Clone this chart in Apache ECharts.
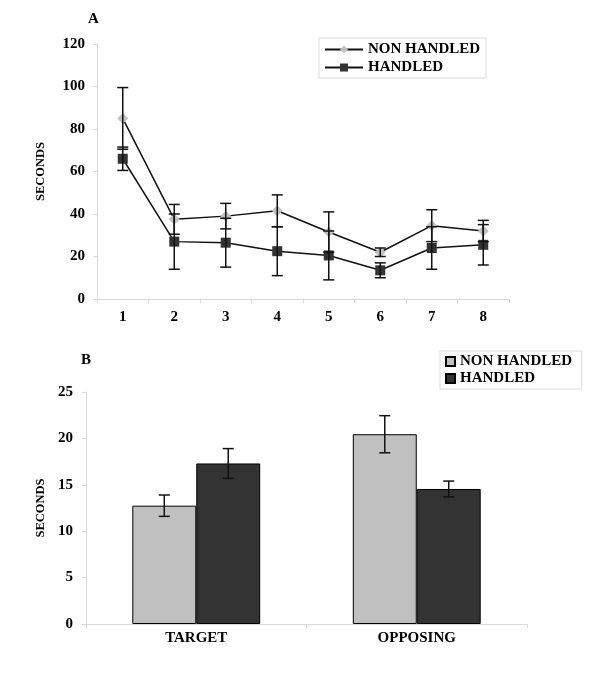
<!DOCTYPE html>
<html><head><meta charset="utf-8">
<script src="https://cdn.jsdelivr.net/npm/echarts@6/dist/echarts.min.js"></script>
<style>html,body{margin:0;padding:0;background:#fff}#c{width:600px;height:689px}</style>
</head><body><div id="c"></div>
<script>
// Panel A data
const trials = ['1','2','3','4','5','6','7','8'];
const nonHandledA = [85, 37.5, 39, 41.5, 31.5, 22, 34.5, 32];
const nonHandledAErr = [14.5, 7, 6, 7.5, 9.5, 2, 7.5, 5];
const handledA = [66, 27, 26.5, 22.5, 20.5, 13.5, 24, 25.5];
const handledAErr = [5.5, 13, 11.5, 11.5, 11.5, 3.5, 10, 9.5];
const yTicksA = [0, 20, 40, 60, 80, 100, 120];
// Panel B data
const quadrants = ['TARGET', 'OPPOSING'];
const nonHandledB = [12.75, 20.45];
const nonHandledBErr = [1.15, 2.0];
const handledB = [17.3, 14.55];
const handledBErr = [1.6, 0.85];
const yTicksB = [0, 5, 10, 15, 20, 25];

const FONT = '"Liberation Serif", "Times New Roman", serif';
const LIGHT = '#c0c0c0', DARK = '#333333', AXIS = '#d9d9d9';
const CAT_GAP = 0.42;

function errData(vals, errs) { return vals.map((v, i) => [i, v - errs[i], v + errs[i]]); }

function errRender(offsetSign, capW) {
  return function (params, api) {
    const x = api.value(0);
    const lo = api.coord([x, api.value(1)]);
    const hi = api.coord([x, api.value(2)]);
    let off = 0;
    if (offsetSign !== 0) {
      const band = api.size([1, 0])[0];
      off = offsetSign * band * (1 - CAT_GAP) / 4;
    }
    const cx = lo[0] + off;
    const st = { stroke: '#111', lineWidth: 1.5 };
    return {
      type: 'group',
      children: [
        { type: 'line', shape: { x1: cx, y1: hi[1], x2: cx, y2: lo[1] }, style: st },
        { type: 'line', shape: { x1: cx - capW / 2, y1: hi[1], x2: cx + capW / 2, y2: hi[1] }, style: st },
        { type: 'line', shape: { x1: cx - capW / 2, y1: lo[1], x2: cx + capW / 2, y2: lo[1] }, style: st }
      ]
    };
  };
}

const axisLabelStyle = { color: '#000', fontFamily: FONT, fontWeight: 'bold', fontSize: 15 };
const legendText = { fontFamily: FONT, fontWeight: 'bold', fontSize: 15, color: '#000' };
const nameStyle = { fontFamily: FONT, fontWeight: 'bold', fontSize: 12.5, color: '#000' };

const chart = echarts.init(document.getElementById('c'), null, { renderer: 'canvas' });
chart.setOption({
  backgroundColor: '#fff',
  animation: false,
  title: [
    { text: 'A', left: 88, top: 12, padding: 0, textStyle: { fontFamily: FONT, fontWeight: 'bold', fontSize: 15, color: '#000' } },
    { text: 'B', left: 81, top: 353, padding: 0, textStyle: { fontFamily: FONT, fontWeight: 'bold', fontSize: 15, color: '#000' } }
  ],
  legend: [
    {
      data: ['NON HANDLED', 'HANDLED'].map(n => ({ name: n })),
      orient: 'vertical', left: 319, top: 38, padding: [4, 6, 3, 5],
      itemWidth: 38, itemHeight: 10, itemGap: 3,
      borderColor: '#dcdcdc', borderWidth: 1, borderRadius: 0,
      textStyle: legendText
    },
    {
      data: [{ name: 'NON HANDLED ' }, { name: 'HANDLED ' }],
      orient: 'vertical', left: 440, top: 351, padding: [3, 6, 3, 5],
      itemWidth: 9, itemHeight: 9, itemGap: 2, icon: 'rect',
      borderColor: '#dcdcdc', borderWidth: 1, borderRadius: 0,
      textStyle: legendText
    }
  ],
  grid: [
    { left: 97, right: 91, top: 44, bottom: 390, containLabel: false },
    { left: 86, right: 73, top: 392, bottom: 65, containLabel: false }
  ],
  xAxis: [
    {
      gridIndex: 0, type: 'category', data: trials, boundaryGap: true,
      axisLine: { lineStyle: { color: AXIS, width: 1 } },
      axisTick: { show: true, alignWithLabel: false, length: 4, lineStyle: { color: AXIS } },
      axisLabel: Object.assign({ margin: 11 }, axisLabelStyle)
    },
    {
      gridIndex: 1, type: 'category', data: quadrants, boundaryGap: true,
      axisLine: { lineStyle: { color: AXIS, width: 1 } },
      axisTick: { show: true, alignWithLabel: false, length: 4, lineStyle: { color: AXIS } },
      axisLabel: Object.assign({ margin: 7 }, axisLabelStyle)
    }
  ],
  yAxis: [
    {
      gridIndex: 0, type: 'value', min: yTicksA[0], max: yTicksA[yTicksA.length - 1], interval: yTicksA[1] - yTicksA[0],
      name: 'SECONDS', nameLocation: 'middle', nameGap: 50, nameRotate: 90,
      nameTextStyle: nameStyle,
      axisLine: { show: true, lineStyle: { color: AXIS, width: 1 } },
      axisTick: { show: true, length: 4, lineStyle: { color: AXIS } },
      splitLine: { show: false },
      axisLabel: Object.assign({ margin: 12 }, axisLabelStyle)
    },
    {
      gridIndex: 1, type: 'value', min: yTicksB[0], max: yTicksB[yTicksB.length - 1], interval: yTicksB[1] - yTicksB[0],
      name: 'SECONDS', nameLocation: 'middle', nameGap: 39, nameRotate: 90,
      nameTextStyle: nameStyle,
      axisLine: { show: true, lineStyle: { color: AXIS, width: 1 } },
      axisTick: { show: true, length: 4, lineStyle: { color: AXIS } },
      splitLine: { show: false },
      axisLabel: Object.assign({ margin: 13 }, axisLabelStyle)
    }
  ],
  series: [
    {
      name: 'NON HANDLED', type: 'line', xAxisIndex: 0, yAxisIndex: 0, data: nonHandledA,
      symbol: 'diamond', symbolSize: 11,
      itemStyle: { color: LIGHT },
      lineStyle: { color: '#111', width: 1.5 }, z: 3
    },
    {
      name: 'HANDLED', type: 'line', xAxisIndex: 0, yAxisIndex: 0, data: handledA,
      symbol: 'rect', symbolSize: 10,
      itemStyle: { color: DARK },
      lineStyle: { color: '#111', width: 1.5 }, z: 3
    },
    {
      type: 'custom', xAxisIndex: 0, yAxisIndex: 0, data: errData(nonHandledA, nonHandledAErr),
      renderItem: errRender(0, 11), encode: { x: 0, y: [1, 2] }, z: 4, silent: true
    },
    {
      type: 'custom', xAxisIndex: 0, yAxisIndex: 0, data: errData(handledA, handledAErr),
      renderItem: errRender(0, 11), encode: { x: 0, y: [1, 2] }, z: 4, silent: true
    },
    {
      name: 'NON HANDLED ', type: 'bar', xAxisIndex: 1, yAxisIndex: 1, data: nonHandledB,
      barGap: '0%', barCategoryGap: (CAT_GAP * 100) + '%',
      itemStyle: { color: LIGHT, borderColor: '#000', borderWidth: 1 }
    },
    {
      name: 'HANDLED ', type: 'bar', xAxisIndex: 1, yAxisIndex: 1, data: handledB,
      barGap: '0%', barCategoryGap: (CAT_GAP * 100) + '%',
      itemStyle: { color: DARK, borderColor: '#000', borderWidth: 1 }
    },
    {
      type: 'custom', xAxisIndex: 1, yAxisIndex: 1, data: errData(nonHandledB, nonHandledBErr),
      renderItem: errRender(-1, 11), encode: { x: 0, y: [1, 2] }, z: 4, silent: true
    },
    {
      type: 'custom', xAxisIndex: 1, yAxisIndex: 1, data: errData(handledB, handledBErr),
      renderItem: errRender(1, 11), encode: { x: 0, y: [1, 2] }, z: 4, silent: true
    }
  ]
});
</script>
</body></html>
